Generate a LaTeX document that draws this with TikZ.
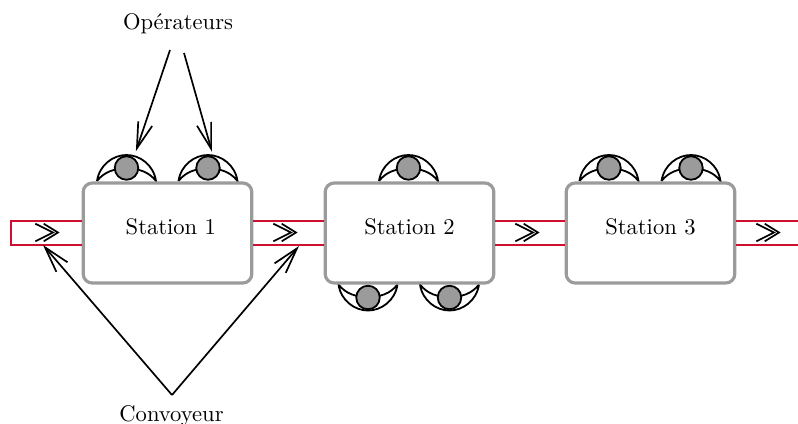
\documentclass[tikz,border=0pt]{standalone}
\usepackage{amsmath,amssymb}
\usepackage{xcolor}
\usetikzlibrary{arrows.meta}
\definecolor{tapis}{RGB}{205,15,50}
\definecolor{gris}{RGB}{155,155,155}

\begin{document}
\begin{tikzpicture}[x=0.443pt, y=-0.443pt,
        station/.style={rectangle, draw=gris, fill=white, line width=1.4pt, rounded corners=4pt, minimum width=74.7pt, minimum height=44.3pt, inner sep=0pt, text centered, text depth=5.5pt},
        belt/.style={draw=tapis, line width=0.9pt},
        arrow/.style={-{Straight Barb[length=11.5pt,width=6.5pt]}, line width=0.75pt, black},
        operateur/.pic={
            \draw[line width=0.8pt, fill=white] (-29.5,13.5) .. controls (-27,-3) and (-13,-12.5) .. (0,-12.5) .. controls (13,-12.5) and (27,-3) .. (29.5,13.5) .. controls (22,4) and (12,1) .. (0,1) .. controls (-12,1) and (-22,4) .. (-29.5,13.5);
            \node[circle, draw, fill=gris, line width=0.8pt, minimum size=23.5*0.443pt, inner sep=0pt] (tete) at (0,0.5) {};
        },
        flux/.pic={
            \draw[line width=0.75pt] (-12.2,-8.8) -- (5.5,0) -- (-12.2,8.8);
            \draw[line width=0.75pt] (-3.8,-8.8) -- (10.5,0) -- (-3.8,8.8);
        }]

        \useasboundingbox (0,0) rectangle (798,423);

        % Operators
        \pic (opa) at (126.5,167.5) {operateur};
        \pic (opb) at (208,167.5) {operateur};
        \pic (opc) at (408.5,167.5) {operateur};
        \pic (opd) at (609,167.5) {operateur};
        \pic (ope) at (691,167.5) {operateur};
        \pic[rotate=180] (opf) at (368,298) {operateur};
        \pic[rotate=180] (opg) at (449.5,298) {operateur};

        % Stations
        \node[station] (st1) at (167.5,233) {\hspace{3pt}Station 1};
        \node[station] (st2) at (409.5,233) {Station 2};
        \node[station] (st3) at (650.5,233) {Station 3};

        % Conveyor
        \coordinate (beltin) at (11,233);
        \coordinate (beltout) at (798,233);
        \draw[belt] ([yshift=5.5pt]st1.west) -- ([yshift=5.5pt]beltin) -- ([yshift=-5.4pt]beltin) -- ([yshift=-5.4pt]st1.west);
        \foreach \a/\b in {st1/st2.west, st2/st3.west, st3/beltout} {
            \draw[belt] ([yshift=5.5pt]\a.east) -- ([yshift=5.5pt]\b);
            \draw[belt] ([yshift=-5.4pt]\a.east) -- ([yshift=-5.4pt]\b);
        }

        % Flow marks
        \pic (flowa) at (47.5,232.5) {flux};
        \pic (flowb) at (285.5,232.5) {flux};
        \pic (flowc) at (527.5,232.5) {flux};
        \pic (flowd) at (768.5,232.5) {flux};

        % Labels
        \node (operateurs) at (178,24) {Op\'erateurs};
        \node (convoyeur) at (171.5,416) {Convoyeur};

        % Arrows
        \coordinate (opleft) at (170,50);
        \coordinate (opright) at (184,53);
        \coordinate (convtop) at (172,395);
        \coordinate (belta) at (43,245);
        \coordinate (beltb) at (299,246);

        \draw[arrow, shorten >=3pt] (opleft) -- (opatete.55);
        \draw[arrow, shorten >=2.2pt] (opright) -- (opbtete.65);
        \draw[arrow] (convtop) -- (belta);
        \draw[arrow] (convtop) -- (beltb);

\end{tikzpicture}
\end{document}
